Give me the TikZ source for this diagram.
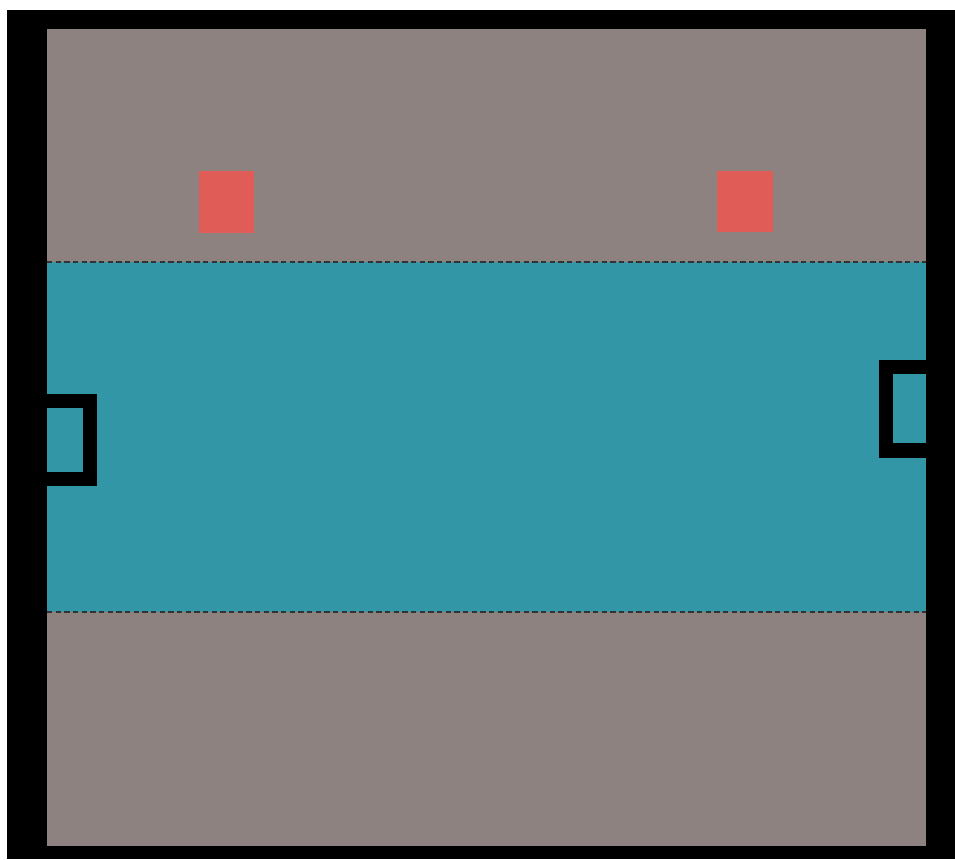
\documentclass[tikz,border=0pt]{standalone}
\definecolor{wallgray}{RGB}{142,130,129}
\definecolor{water}{RGB}{51,150,167}
\definecolor{redsq}{RGB}{224,92,86}
\tikzset{
  wall/.style={fill=black, draw=none},
  boundary/.style={draw=black!80, line width=1.1pt, dash pattern=on 4pt off 2.5pt},
}
\begin{document}
\begin{tikzpicture}[x=0.75pt,y=-0.75pt]
\useasboundingbox (0,0) rectangle (955,859);
\fill[white] (0,0) rectangle (955,859);
% outer black frame
\fill[wall] (7,10) rectangle (955,859);
% field
\fill[wallgray] (47,29) rectangle (926,846);
% water band
\fill[water] (47,262) rectangle (926,612);
\draw[boundary] (47,262) -- (926,262);
\draw[boundary] (47,612) -- (926,612);
% red squares
\fill[redsq] (199,171) rectangle (254,233);
\fill[redsq] (717,171) rectangle (773,232);
% left gate
\fill[wall] (47,394) rectangle (97,486);
\fill[water] (47,408) rectangle (83,472);
% right gate
\fill[wall] (879,360) rectangle (926,458);
\fill[water] (893,374) rectangle (926,443);
\end{tikzpicture}
\end{document}
